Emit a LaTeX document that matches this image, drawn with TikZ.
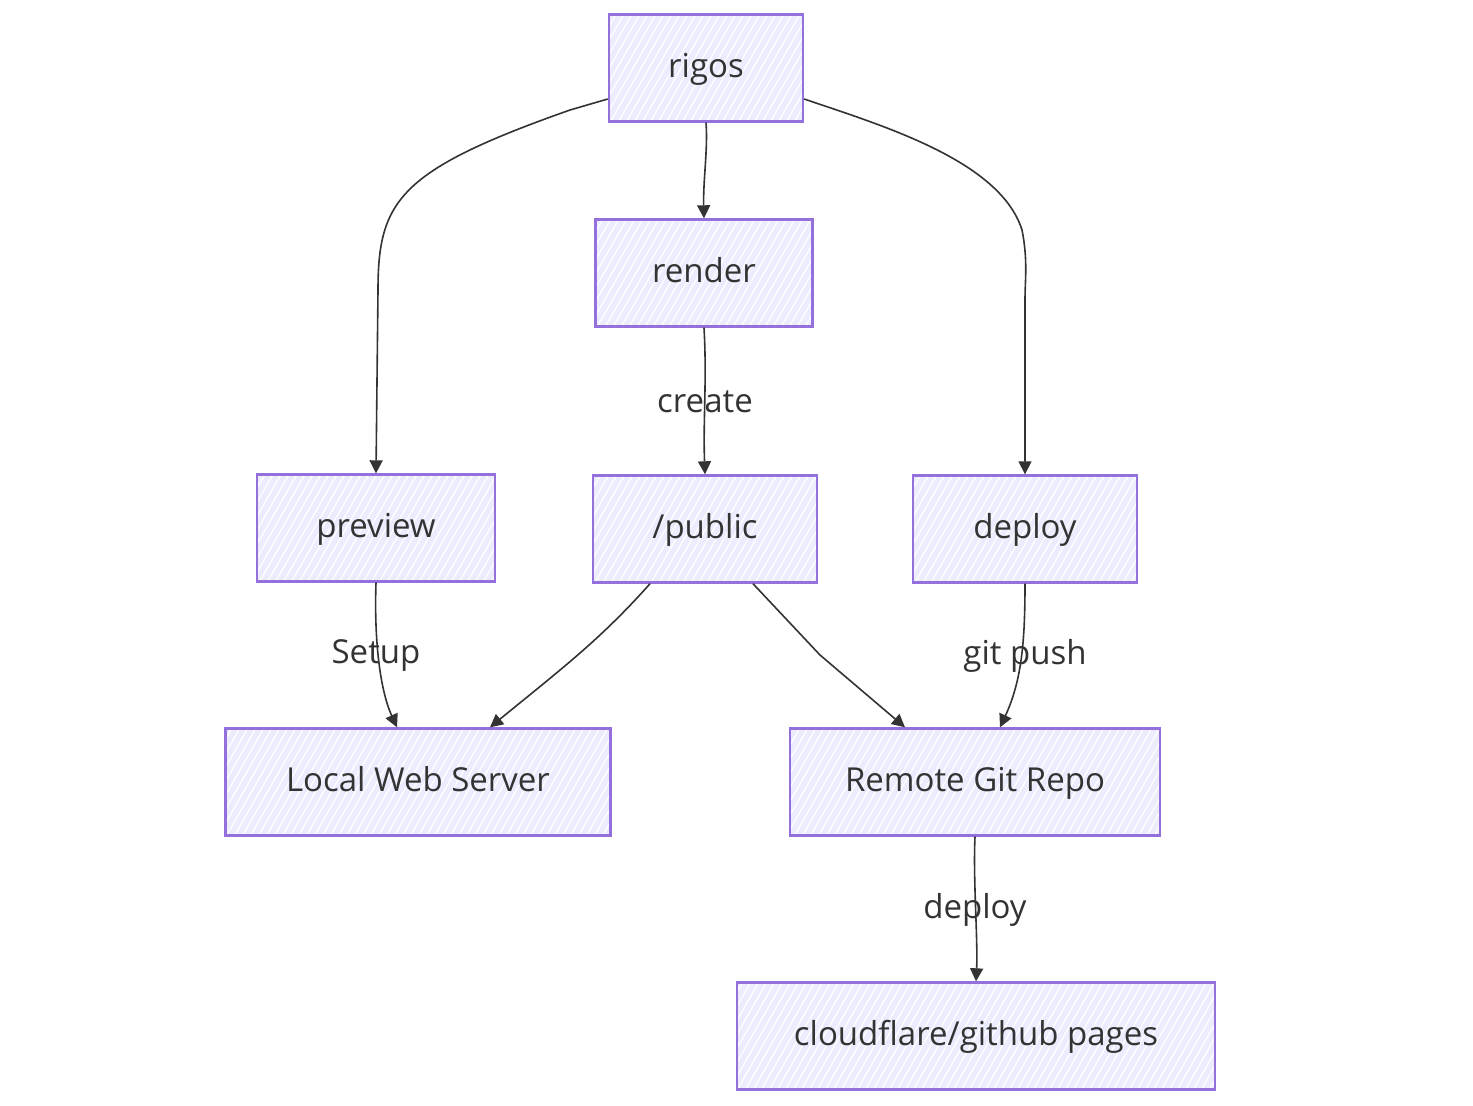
\documentclass[tikz,border=0pt]{standalone}
\usepackage{fontspec}
\setmainfont{Open Sans}
\usetikzlibrary{arrows.meta,patterns,positioning,calc}
\definecolor{nodefill}{HTML}{ECECFF}
\definecolor{nodeline}{HTML}{9370DB}
\definecolor{ink}{HTML}{333333}
\pgfdeclarepatternformonly{hatch}{\pgfqpoint{-1pt}{-1pt}}{\pgfqpoint{9pt}{15pt}}{\pgfqpoint{8pt}{14pt}}{%
  \pgfsetlinewidth{1.2pt}%
  \pgfpathmoveto{\pgfqpoint{0pt}{0pt}}\pgfpathlineto{\pgfqpoint{8pt}{14pt}}\pgfusepath{stroke}}
\tikzset{
  box/.style={draw=nodeline, line width=2.4pt,
    preaction={fill=nodefill},
    preaction={pattern=hatch, pattern color=white},
    minimum height=107pt, inner sep=0pt, text height=23pt, text depth=5pt,
    text=ink, font=\fontsize{33}{38}\selectfont},
  conn/.style={draw=ink, line width=1.6pt, -{Triangle[length=13pt,width=13pt]}},
  elabel/.style={text=ink, font=\fontsize{33}{38}\selectfont, inner sep=0pt}
}
\begin{document}
\begin{tikzpicture}[x=1pt,y=-1pt]
\useasboundingbox[fill=white] (0,0) rectangle (1473,1106);
\node[box, minimum width=194pt] (rigos) at (706,68) {rigos};
\node[box, minimum width=217pt] (render) at (704,273) {render};
\node[box, minimum width=238pt] (preview) at (376,528) {preview};
\node[box, minimum width=224pt] (public) at (705,529) {/public};
\node[box, minimum width=224pt] (deploy) at (1025,529) {deploy};
\node[box, minimum width=385pt] (lws) at (418,782) {Local Web Server};
\node[box, minimum width=370pt] (remote) at (975,782) {Remote Git Repo};
\node[box, minimum width=478pt] (cf) at (976,1036) {cloudflare/github pages};

\draw[conn] ([yshift=-31pt]rigos.west) -- (570,110) .. controls (400,170) and (378,200) .. (378,290) -- (preview.north);
\draw[conn] ([yshift=-31pt]rigos.east) .. controls (880,125) and (1000,160) .. (1022,230) .. controls (1028,260) and (1025,280) .. (1025,300) -- (deploy.north);
\draw[conn] (rigos.south) .. controls (708,150) and (703,180) .. (render.north);
\draw[conn] (render.south) .. controls (707,380) and (703,420) .. (public.north);
\node[elabel] (lcreate) at (705,402) {create};
\draw[conn] (preview.south) .. controls (374,640) and (380,690) .. ([xshift=-21pt]lws.north);
\node[elabel] (lsetup) at (376,656) {Setup};
\draw[conn] ([xshift=-55pt]public.south) .. controls (600,640) and (560,670) .. ([xshift=72pt]lws.north);
\draw[conn] ([xshift=48pt]public.south) -- (820,655) -- ([xshift=-70pt]remote.north);
\draw[conn] (deploy.south) .. controls (1025,640) and (1022,680) .. ([xshift=25pt]remote.north);
\node[elabel] (lgit) at (1025,656) {git push};
\draw[conn] (remote.south) .. controls (973,880) and (978,940) .. (cf.north);
\node[elabel] (ldeploy) at (975,910) {deploy};
\end{tikzpicture}
\end{document}
